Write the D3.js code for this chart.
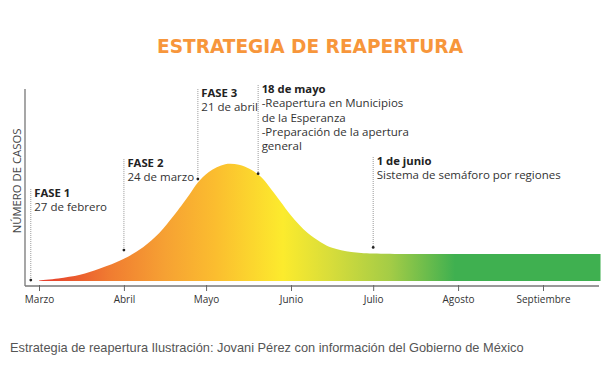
<!DOCTYPE html>
<html>
    <head>
        <meta charset="utf-8">
        <title>Estrategia de reapertura</title>
        <script src="https://d3js.org/d3.v7.min.js"></script>
        <style>
            * {
                margin: 0;
                padding: 0;
                box-sizing: border-box;
            }

            body {
                width: 608px;
                height: 365px;
                overflow: hidden;
                background-color: #ffffff;
            }

            svg {
                display: block;
            }

            .title {
                font-family: 'DejaVu Sans', sans-serif;
                font-stretch: condensed;
                font-weight: bold;
                font-size: 20px;
                fill: #f7963b;
            }

            .tick-label {
                font-family: 'Open Sans', sans-serif;
                font-size: 10px;
                fill: #333;
            }

            .anno-title {
                font-family: 'Open Sans', sans-serif;
                font-weight: bold;
                font-size: 11.3px;
                fill: #222;
            }

            .anno-text {
                font-family: 'Open Sans', sans-serif;
                font-size: 11.5px;
                fill: #333;
            }

            .y-label {
                font-family: 'Open Sans', sans-serif;
                font-size: 11.3px;
                fill: #444;
            }

            .caption {
                font-family: 'Liberation Sans', Arial, sans-serif;
                font-size: 12.8px;
                fill: #555;
            }

            .guide {
                stroke: #999;
                stroke-width: 1px;
                stroke-dasharray: 1, 1;
            }
        </style>
    </head>
    <body>
        <script>
            // curve of cases (illustrative shape)
            const curveDates = [
                '2020-03-01', '2020-03-08', '2020-03-16', '2020-03-23', '2020-04-01', '2020-04-08',
                '2020-04-14', '2020-04-19', '2020-04-25', '2020-04-28', '2020-05-02', '2020-05-08',
                '2020-05-13', '2020-05-17', '2020-05-21', '2020-05-24', '2020-05-28', '2020-06-01',
                '2020-06-07', '2020-06-12', '2020-06-16', '2020-06-23', '2020-07-01', '2020-08-01',
                '2020-09-22',
            ];
            const curveValues = [
                0.3, 1.3, 3.2, 6.3, 11.5, 17.5, 25, 33.5, 45, 51, 56.5, 60.5, 60.2, 58, 54, 49, 41.5, 34, 25,
                20, 17.2, 15, 14.2, 14, 14,
            ];

            // month ticks
            const tickDates = ['2020-03-01', '2020-04-01', '2020-05-01', '2020-06-01', '2020-07-01', '2020-08-01', '2020-09-01'];
            const tickLabels = ['Marzo', 'Abril', 'Mayo', 'Junio', 'Julio', 'Agosto', 'Septiembre'];

            // annotations: where the marker sits on the drawing, and its text
            const annoDates = ['2020-02-27', '2020-04-01', '2020-04-28', '2020-05-20', '2020-07-01'];
            const annoValues = [0.5, 16, 52.8, 55.6, 17.4];
            const annoLabelValues = [43.5, 59, 95.3, 97.4, 60.1];
            const annoTitles = ['FASE 1', 'FASE 2', 'FASE 3', '18 de mayo', '1 de junio'];
            const annoLines = [
                ['27 de febrero'],
                ['24 de marzo'],
                ['21 de abril'],
                ['-Reapertura en Municipios', 'de la Esperanza', '-Preparación de la apertura', 'general'],
                ['Sistema de semáforo por regiones'],
            ];

            const width = 608;
            const height = 365;
            const parse = d3.utcParse('%Y-%m-%d');

            const x = d3
                .scaleUtc()
                .domain([parse('2020-03-01'), parse('2020-09-01')])
                .range([39, 543]);
            const y = d3.scaleLinear().domain([0, 100]).range([281, 88]);

            const svg = d3.select('body').append('svg').attr('width', width).attr('height', height);

            // title
            svg.append('text')
                .attr('class', 'title')
                .attr('x', 310)
                .attr('y', 53)
                .attr('text-anchor', 'middle')
                .attr('textLength', 306)
                .attr('lengthAdjust', 'spacingAndGlyphs')
                .text('ESTRATEGIA DE REAPERTURA');

            // gradient
            const curveData = curveDates.map((d, i) => ({ date: parse(d), value: curveValues[i] }));
            const x0 = x(curveData[0].date);
            const x1 = x(curveData[curveData.length - 1].date);
            const grad = svg
                .append('defs')
                .append('linearGradient')
                .attr('id', 'curveGrad')
                .attr('gradientUnits', 'userSpaceOnUse')
                .attr('x1', x0)
                .attr('x2', x1)
                .attr('y1', 0)
                .attr('y2', 0);
            const stops = [
                [45, '#e63f2c'],
                [110, '#f07c31'],
                [165, '#f6a133'],
                [215, '#fbbd2f'],
                [283, '#fceb2d'],
                [330, '#d8dd3a'],
                [390, '#a4cc46'],
                [455, '#3fb050'],
                [600, '#3fb050'],
            ];
            stops.forEach(([px, c]) => {
                grad.append('stop')
                    .attr('offset', (px - x0) / (x1 - x0))
                    .attr('stop-color', c);
            });

            const area = d3
                .area()
                .x((d) => x(d.date))
                .y0(y(0))
                .y1((d) => y(d.value))
                .curve(d3.curveCatmullRom.alpha(0.5));

            svg.append('path').datum(curveData).attr('d', area).attr('fill', 'url(#curveGrad)');

            // axes
            svg.append('line').attr('x1', 25).attr('x2', 25).attr('y1', 89).attr('y2', 286).attr('stroke', '#777').attr('stroke-width', 1.3);
            svg.append('line').attr('x1', 25).attr('x2', 599).attr('y1', 286).attr('y2', 286).attr('stroke', '#777').attr('stroke-width', 1.3);

            const xAxis = d3
                .axisBottom(x)
                .tickValues(tickDates.map(parse))
                .tickSize(6)
                .tickFormat((d, i) => tickLabels[i]);
            const gx = svg.append('g').attr('transform', 'translate(0,285)').call(xAxis);
            gx.select('.domain').remove();
            gx.selectAll('.tick line').attr('stroke', '#666').attr('stroke-width', 1);
            gx.selectAll('.tick text').attr('class', 'tick-label').attr('y', 11).attr('dy', '0.71em');

            svg.append('text')
                .attr('class', 'y-label')
                .attr('transform', 'translate(21,181) rotate(-90)')
                .attr('text-anchor', 'middle')
                .text('NÚMERO DE CASOS');

            // annotations
            const anno = svg
                .append('g')
                .selectAll('g')
                .data(annoDates.map((d, i) => ({ date: parse(d), value: annoValues[i], labelValue: annoLabelValues[i], title: annoTitles[i], lines: annoLines[i] })))
                .join('g');

            anno.append('line')
                .attr('class', 'guide')
                .attr('x1', (d) => x(d.date))
                .attr('x2', (d) => x(d.date))
                .attr('y1', (d) => y(d.labelValue) - 8)
                .attr('y2', (d) => y(d.value));

            anno.append('circle')
                .attr('cx', (d) => x(d.date))
                .attr('cy', (d) => y(d.value))
                .attr('r', 1.4)
                .attr('fill', '#222');

            anno.append('text')
                .attr('class', 'anno-title')
                .attr('x', (d) => x(d.date) + 3.5)
                .attr('y', (d) => y(d.labelValue))
                .text((d) => d.title);

            anno.each(function (d) {
                d3.select(this)
                    .selectAll('text.anno-text')
                    .data(d.lines)
                    .join('text')
                    .attr('class', 'anno-text')
                    .attr('x', x(d.date) + 3.5)
                    .attr('y', (t, i) => y(d.labelValue) + 14.3 * (i + 1))
                    .text((t) => t);
            });

            // caption
            svg.append('text')
                .attr('class', 'caption')
                .attr('x', 10)
                .attr('y', 352)
                .text('Estrategia de reapertura Ilustración: Jovani Pérez con información del Gobierno de México');
        </script>
    </body>
</html>
